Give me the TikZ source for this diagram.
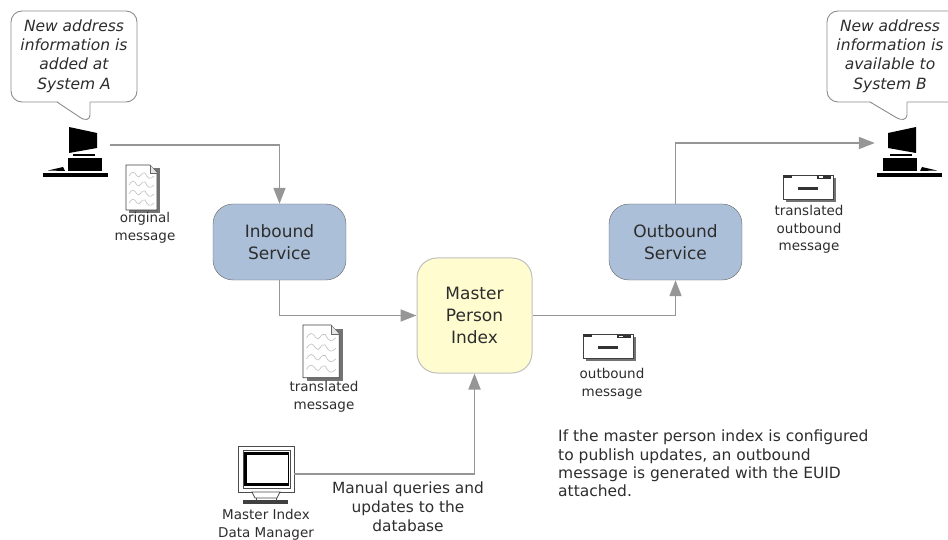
\documentclass[tikz,border=0pt]{standalone}
\usepackage{fontspec}
\setmainfont{DejaVu Sans}
\usetikzlibrary{arrows.meta}
\definecolor{svcblue}{RGB}{171,191,216}
\definecolor{mpiyellow}{RGB}{255,253,208}
\definecolor{linegray}{RGB}{150,150,150}
\definecolor{txtgray}{RGB}{45,45,45}
\tikzset{
  service/.style={draw=black!60,fill=svcblue,rounded corners=20pt,minimum width=133pt,minimum height=76pt,align=center,font=\fontsize{17}{22}\selectfont,text=txtgray},
  mpibox/.style={draw=black!25,line width=1pt,fill=mpiyellow,rounded corners=20pt,minimum width=115pt,minimum height=115pt,align=center,font=\fontsize{17}{22}\selectfont,text=txtgray},
  msglabel/.style={align=center,font=\fontsize{13.5}{17.5}\selectfont,text=txtgray,inner sep=0pt},
  bubbletext/.style={align=center,font=\fontsize{15.5}{19.3}\selectfont\itshape,text=txtgray,inner sep=0pt},
  bubble/.style={draw=black!45,line width=0.9pt,fill=white,rounded corners=11pt},
  bubbletail/.style={draw=black!45,line width=0.9pt},
  flow/.style={draw=linegray,line width=1.8pt,-{Triangle[length=16pt,width=12pt]}},
  icon/.style={inner sep=0pt,minimum height=8pt},
  pics/pcicon/.style={code={
    \fill[black] (69,127) -- (97,133) -- (97,148) -- (69,153) -- cycle;
    \fill[black] (73,154) -- (95,154) -- (95,156.5) -- (73,156.5) -- cycle;
    \fill[black] (68,158) rectangle (102,171);
    \fill[black] (48,170.5) -- (63,167) -- (65,171) -- cycle;
    \fill[black] (43,173) rectangle (108,177);
  }},
  pics/docicon/.style={code={
    \fill[black!55] (3,3) rectangle (34,48);
    \draw[black!75,fill=white,line width=0.7pt] (0,0) -- (24,0) -- (31,8) -- (31,45) -- (0,45) -- cycle;
    \draw[black!60,line width=0.5pt,fill=black!10] (24,0) -- (24,8) -- (31,8);
    \foreach \row in {8,17,26,35}{
      \draw[black!25,line width=0.6pt] (3,\row+3) .. controls (6,\row-2) and (8,\row-2) .. (11,\row+3)
        .. controls (14,\row+7) and (15,\row-2) .. (19,\row) .. controls (22,\row+6) and (24,\row+7) .. (28,\row+3);
    }
  }},
  pics/envicon/.style={code={
    \fill[black!55] (3,3) rectangle (53,27);
    \draw[black!75,fill=white,line width=0.9pt] (0,0) rectangle (50,24);
    \fill[black!80] (0,0) rectangle (9,3);
    \fill[black!80] (34,0.5) rectangle (48,4);
    \fill[white] (36,1.5) rectangle (40,3);
    \fill[black!80] (15,12) rectangle (35,15);
  }},
  pics/termicon/.style={code={
    \draw[black!70,fill=white,line width=0.8pt] (238,446) rectangle (294,492);
    \draw[black!70,fill=white,line width=0.6pt] (243,450) rectangle (290,488);
    \fill[black] (244,452) rectangle (289,486);
    \fill[white] (247,455) rectangle (288,483);
    \draw[black!70,fill=white,line width=0.7pt] (252,492) -- (280,492) -- (277,498) -- (255,498) -- cycle;
    \draw[black!70,line width=0.7pt] (256,498) -- (256,501) (276,498) -- (276,501);
    \fill[black!75] (243,500) rectangle (288,503.5);
  }},
}

\begin{document}
\begin{tikzpicture}[x=1pt,y=-1pt]
    \useasboundingbox (0,0) rectangle (948,540);
    % speech bubbles
    \draw[bubble] (11,11) rectangle (137,102);
    \fill[white] (57,101) -- (84,119) -- (90,116) -- (90,101) -- cycle;
    \draw[bubbletail] (57,102) -- (81,118) .. controls (85,120.5) and (90,120) .. (90,115) -- (90,102);
    \draw[bubble] (827,11) rectangle (960,102);
    \fill[white] (870,101) -- (897,119) -- (907,116) -- (907,101) -- cycle;
    \draw[bubbletail] (870,102) -- (897,118) .. controls (901,120.5) and (907,120) .. (907,115) -- (907,102);
    \node[bubbletext] (noteA) at (74,56) {New address\\information is\\added at\\System A};
    \node[bubbletext] (noteB) at (890,56) {New address\\information is\\available to\\System B};

    % computers
    \pic at (0,0) {pcicon};
    \pic[xscale=-1] at (985,0) {pcicon};
    \node[icon,minimum width=66pt] (pcA) at (77,145) {};
    \node[icon,minimum width=56pt] (pcB) at (903,143) {};
    \pic at (0,0) {termicon};
    \node[icon,minimum width=56pt] (manager) at (266,474) {};

    % services
    \node[service] (inbound) at (279.5,242) {Inbound\\Service};
    \node[service] (outbound) at (675.5,242) {Outbound\\Service};
    \node[mpibox] (mpi) at (474.5,315.5) {Master\\Person\\Index};

    % connectors
    \draw[flow] (pcA.east) -| (inbound.north);
    \draw[flow] (inbound.south) |- (mpi.west);
    \draw[flow] (mpi.east) -| (outbound.south);
    \draw[flow] (outbound.north) |- (pcB.west);
    \draw[flow] (manager.east) -| (mpi.south);

    % messages
    \pic at (126,165) {docicon};
    \pic[scale=1.17] at (303,325) {docicon};
    \pic at (783,175) {envicon};
    \pic at (583,334) {envicon};

    % labels
    \node[msglabel] (origmsg) at (145,228) {original\\message};
    \node[msglabel] (transmsg) at (324,397) {translated\\message};
    \node[msglabel] (transout) at (809,229.5) {translated\\outbound\\message};
    \node[msglabel] (outmsg) at (612,384) {outbound\\message};
    \node[msglabel] (mgrlabel) at (266,525) {Master Index\\Data Manager};
    \node[msglabel,font=\fontsize{15.4}{19}\selectfont] (querylabel) at (408,507) {Manual queries and\\updates to the\\database};
    \node[msglabel,align=left,anchor=north west,font=\fontsize{15.5}{18.3}\selectfont] (euidnote) at (558,430) {If the master person index is configured\\to publish updates, an outbound\\message is generated with the EUID\\attached.};
\end{tikzpicture}
\end{document}
